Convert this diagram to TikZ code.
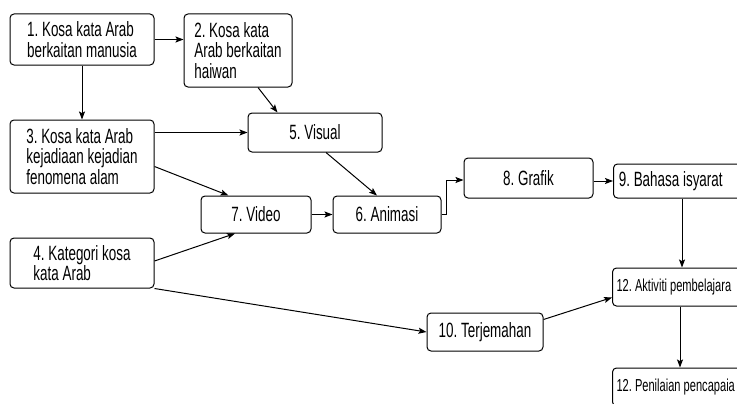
\documentclass[tikz,border=0pt]{standalone}
\usepackage{fontspec}
\setmainfont{Liberation Sans}[FakeStretch=0.65]
\newfontfamily\cutfont{Liberation Sans}[FakeStretch=0.64]
\usetikzlibrary{arrows.meta,calc}
\frenchspacing

\tikzset{every picture/.style={line width=0.75pt}}
\tikzset{
  box/.style={draw, rounded corners=3pt, align=left, inner sep=2pt,
    font=\fontsize{15.5}{15.5}\selectfont},
  cutbox/.style={box, anchor=west, align=flush left, text width=125pt, inner xsep=3pt},
  link/.style={-{Stealth[length=6pt,width=4.5pt,inset=1.2pt]}}
}

\begin{document}
\begin{tikzpicture}[x=0.75pt,y=0.75pt,yscale=-1,xscale=1]
        \useasboundingbox (0,0) rectangle (737,403);
        \clip (0,0) rectangle (737,403);

        %Shape: Rectangle [id:box1]
        \node [box, minimum width=108pt, minimum height=38.25pt] (n1) at (82,39.5) {1. Kosa kata Arab\\berkaitan manusia};
        %Shape: Rectangle [id:box2]
        \node [box, minimum width=81pt, minimum height=54.75pt] (n2) at (238,50.5) {2. Kosa kata\\Arab berkaitan\\haiwan};
        %Shape: Rectangle [id:box3]
        \node [box, minimum width=108pt, minimum height=54.75pt] (n3) at (82,156.5) {3. Kosa kata Arab\\kejadiaan kejadian\\fenomena alam};
        %Shape: Rectangle [id:box4]
        \node [box, minimum width=108pt, minimum height=37.5pt] (n4) at (82,263) {4. Kategori kosa\\kata Arab};
        %Shape: Rectangle [id:box5]
        \node [box, minimum width=100.5pt, minimum height=29.25pt] (n5) at (315,132.5) {5. Visual};
        %Shape: Rectangle [id:box7]
        \node [box, minimum width=82.5pt, minimum height=27.75pt] (n7) at (256,214.5) {7. Video};
        %Shape: Rectangle [id:box6]
        \node [box, minimum width=81pt, minimum height=27.75pt] (n6) at (387,214.5) {6. Animasi};
        %Shape: Rectangle [id:box8]
        \node [box, minimum width=96.75pt, minimum height=30pt] (n8) at (528.5,178) {8. Grafik};
        %Shape: Rectangle [id:box10]
        \node [box, minimum width=87pt, minimum height=28.5pt] (n10) at (485,332) {10. Terjemahan};
        %Shape: Rectangle [id:box9]
        \node [cutbox, minimum height=25.5pt, inner xsep=4pt] (n9) at (613,181) {9. Bahasa isyarat};
        %Shape: Rectangle [id:box12a]
        \node [cutbox, minimum height=28.5pt, font=\cutfont\fontsize{13}{13}\selectfont] (n12a) at (612,287) {12. Aktiviti pembelajara};
        %Shape: Rectangle [id:box12b]
        \node [cutbox, minimum height=28.5pt, font=\cutfont\fontsize{13}{13}\selectfont] (n12b) at (612,387) {12. Penilaian pencapaia};

        %Straight Lines
        \draw [link] (n1.east) -- (n1.east -| n2.west);
        \draw [link] (n1.south) -- (n1.south |- n3.north);
        \draw [link] ($(n2.south)+(20,0)$) -- ($(n5.north west)+(30,0)$);
        \draw [link] (n3.east |- n5.west) -- (n5.west);
        \draw [link] ($(n3.east)+(0,10)$) -- ($(n7.north west)+(28,0)$);
        \draw [link] ($(n5.south)+(11,0)$) -- ($(n6.north)+(-10,0)$);
        \draw [link] (n7.east) -- (n6.west);
        \draw [link] ($(n4.east)+(0,-2)$) -- ($(n7.south)+(-21,0)$);
        \draw [link] (n4.south east) -- (n10.west);
        \draw [link] (n6.east) -- ++(5,0) |- ($(n8.west)+(0,2)$);
        \draw [link] (n8.east |- n9.west) -- (n9.west);
        \draw [link] ($(n9.south west)+(69,0)$) coordinate (d9) -- (d9 |- n12a.north);
        \draw [link] ($(n10.north east)+(0,7)$) -- ($(n12a.south west)+(0,-9)$);
        \draw [link] ($(n12a.south west)+(68,0)$) coordinate (d12) -- (d12 |- n12b.north);

    \end{tikzpicture}
\end{document}
